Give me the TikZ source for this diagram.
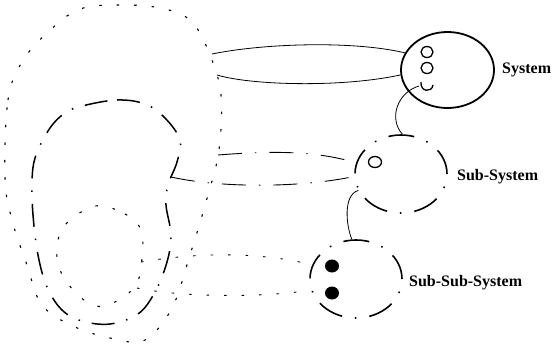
\documentclass[tikz,border=0pt]{standalone}
\usepackage{fontspec}
\setmainfont{Liberation Serif}
\usetikzlibrary{shapes.geometric}
\begin{document}
\begin{tikzpicture}[x=1pt,y=-1pt,
  solidsys/.style={draw, ellipse, line width=1.8pt, minimum width=93pt, minimum height=76pt, inner sep=0pt},
  dashsys/.style={draw, ellipse, line width=1.6pt, minimum width=92pt, minimum height=78pt, inner sep=0pt,
    dash pattern=on 26pt off 13pt on 1.5pt off 13pt},
  port/.style={draw, ellipse, line width=1.3pt, minimum width=12pt, minimum height=11pt, inner sep=0pt},
  fullport/.style={fill, ellipse, minimum width=14pt, minimum height=13pt, inner sep=0pt},
  lbl/.style={anchor=base west, font=\fontsize{16}{18}\selectfont\bfseries, inner sep=0pt},
  link/.style={line width=0.8pt},
  dotline/.style={line width=1.1pt, dash pattern=on 2.5pt off 15pt},
  dotlink/.style={line width=0.9pt, dash pattern=on 2.5pt off 15pt},
  dashloop/.style={line width=1.5pt, dash pattern=on 23pt off 12pt on 1.5pt off 12pt},
  dashlink/.style={line width=0.9pt, dash pattern=on 24pt off 13pt on 1.5pt off 13pt}]
\useasboundingbox (0,0) rectangle (552,349);

% outer dotted region
\draw[dotline] plot[smooth cycle, tension=0.6] coordinates {
  (5,178) (8,100) (22,62) (47,33) (80,9) (125,5) (165,9) (192,22) (210,55)
  (221,95) (219,150) (208,195) (190,255) (172,308) (145,340) (115,339)
  (75,327) (42,305) (27,265) (12,220)};

% dash-dot loop
\draw[dashloop] plot[smooth cycle, tension=0.6] coordinates {
  (82,106) (117,100) (145,104) (165,118) (180,140) (177,162) (168,185)
  (166,205) (171,235) (167,262) (155,292) (138,314) (110,324) (82,321)
  (62,310) (47,287) (38,255) (33,215) (32,180) (36,155) (50,128) (65,113)};

% inner dotted loop
\draw[dotline] plot[smooth cycle, tension=0.6] coordinates {
  (95,206) (125,214) (141,230) (142,258) (136,285) (115,302) (95,306)
  (75,292) (60,270) (57,248) (65,225)};

% attachment points on the free-hand outlines
\coordinate (outA) at (212,54);
\coordinate (outB) at (217,75);
\coordinate (outC) at (218,155);
\coordinate (loopA) at (171,177);
\coordinate (innA) at (141,262);
\coordinate (innB) at (137,288);

% system ellipses
\node[solidsys] (sys) at (447.5,70) {};
\node[dashsys] (sub) at (401,174) {};
\node[dashsys] (subsub) at (356,279) {};

% ports
\node[port] (p1) at (427,52) {};
\node[port] (p2) at (427,68) {};
\draw[line width=1.3pt] (421,82) .. controls (420,92) and (432,93) .. (433,85);
\coordinate (cup) at (419,86);
\node[port, minimum width=13pt] (sp) at (375,162) {};
\node[fullport] (d1) at (332,266) {};
\node[fullport] (d2) at (332,293) {};

% labels
\node[lbl] (lsys) at (502,73) {System};
\node[lbl] (lsub) at (457,180) {Sub-System};
\node[lbl] (lsubsub) at (409,286) {Sub-Sub-System};

% connectors
\draw[link] (outA) .. controls (260,44) and (350,40) .. (sys.158);
\draw[link] (outB) .. controls (250,85) and (340,88) .. (sys.186);
\draw[link] (cup) .. controls (398,92) and (388,118) .. (sub.88);
\draw[link] (sub.201) .. controls (343,195) and (346,225) .. (subsub.96);
\draw[dashlink] (outC) .. controls (280,150) and (320,152) .. (sub.166);
\draw[dashlink] (loopA) .. controls (220,188) and (300,188) .. (sub.183);
\draw[dotlink] (innA) .. controls (200,252) and (260,252) .. (subsub.162);
\draw[dotlink] (innB) .. controls (180,297) and (260,298) .. (subsub.194);
\end{tikzpicture}
\end{document}
